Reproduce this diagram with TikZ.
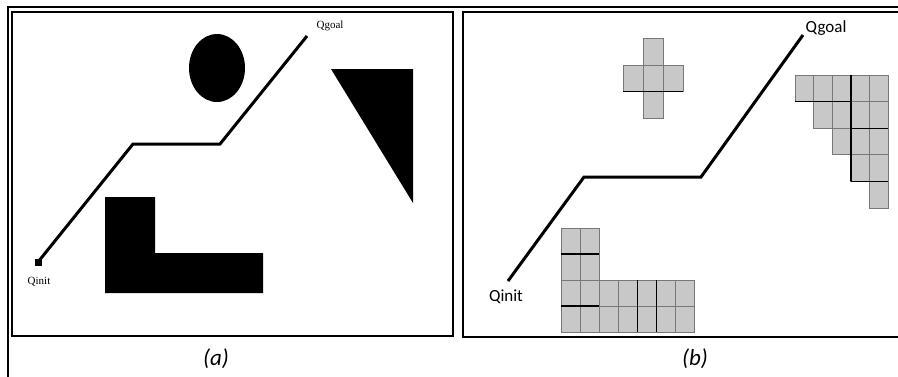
\documentclass[tikz,border=0pt]{standalone}
\usepackage{fontspec}
\usetikzlibrary{calc}
\setmainfont{Carlito}
\newfontfamily\serifa{Liberation Serif}
\definecolor{cellgray}{RGB}{200,200,200}
\definecolor{cellline}{RGB}{120,120,120}
\tikzset{
  frame/.style={draw=black, line width=1.6pt},
  route/.style={draw=black, line width=3pt, line join=miter},
  obst/.style={fill=black},
  cell/.style={fill=cellgray, draw=cellline, line width=1pt},
  heavy/.style={draw=black, line width=1.4pt},
  lbla/.style={font=\serifa\fontsize{11}{13}\selectfont, inner sep=0pt},
  lblb/.style={font=\fontsize{17}{20}\selectfont, inner sep=0pt},
  capt/.style={font=\itshape\fontsize{23}{27}\selectfont, inner sep=0pt},
}
\begin{document}
\begin{tikzpicture}[x=1pt,y=-1pt]
\useasboundingbox (0,0) rectangle (898,376);
\fill[white] (0,0) rectangle (898,376);
% outer frame
\draw[frame] (8,377) -- (8,7) -- (899,7);
% panel boxes
\draw[frame] (12,12) rectangle (453,336);
\draw[frame] (900,12) -- (463,12) -- (463,337) -- (900,337);
% ---------- panel (a)
\fill[obst] (217,68) ellipse [x radius=28, y radius=34];
\fill[obst] (331,69) -- (413,69) -- (413,203) -- cycle;
\fill[obst] (105,197) -- (155,197) -- (155,253) -- (263,253) -- (263,293) -- (105,293) -- cycle;
\coordinate (a0) at (38,262);
\coordinate (a1) at (133,144);
\coordinate (a2) at (220,144);
\coordinate (a3) at (307,36);
\draw[route] (a0) -- (a1) -- (a2) -- (a3);
\fill[black] ($(a0)+(-3.5,-3.5)$) rectangle ($(a0)+(3.5,3.5)$);
\node[lbla] (qinita) at (39,282) {Qinit};
\node[lbla] (qgoala) at (330,26) {Qgoal};
% ---------- panel (b)
% cross
\foreach \c/\r in {1/0,0/1,1/1,2/1,1/2}
  \path[cell] ({623+\c*20},{38.5+\r*26.6}) rectangle ++(20,26.6);
\draw[heavy] (623,91.7) -- (683,91.7);
% triangle
\foreach \c/\r in {0/0,1/0,2/0,3/0,4/0,1/1,2/1,3/1,4/1,2/2,3/2,4/2,3/3,4/3,4/4}
  \path[cell] ({795+\c*18.6},{75+\r*26.6}) rectangle ++(18.6,26.6);
\draw[heavy] (795,101.6) -- (850.8,101.6);
\draw[heavy] (850.8,75) -- (850.8,181.4);
\draw[heavy] (850.8,128.2) -- (888,128.2);
\draw[heavy] (850.8,181.4) -- (888,181.4);
% L shape
\foreach \c/\r in {0/0,1/0,0/1,1/1,0/2,1/2,2/2,3/2,4/2,5/2,6/2,0/3,1/3,2/3,3/3,4/3,5/3,6/3}
  \path[cell] ({561+\c*19.14},{228+\r*26}) rectangle ++(19.14,26);
\draw[heavy] (561,254) -- (599.3,254);
\draw[heavy] (561,306) -- (599.3,306);
\draw[heavy] (637.6,280) -- (637.6,332);
\draw[heavy] (656.7,280) -- (656.7,332);
% route
\coordinate (b0) at (508,281);
\coordinate (b1) at (584,177);
\coordinate (b2) at (701,177);
\coordinate (b3) at (803,35);
\draw[route] (b0) -- (b1) -- (b2) -- (b3);
\node[lblb] (qinitb) at (506,297) {Qinit};
\node[lblb] (qgoalb) at (826,28) {Qgoal};
% captions
\node[capt] (capa) at (216,359) {(a)};
\node[capt] (capb) at (695,359) {(b)};
\end{tikzpicture}
\end{document}
